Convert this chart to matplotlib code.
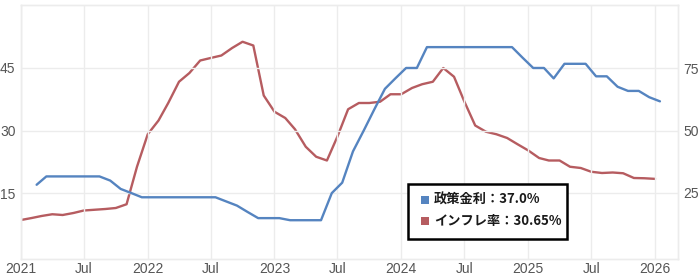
import pandas as pd
import numpy as np
import matplotlib
matplotlib.use('Agg')
import matplotlib.pyplot as plt
from matplotlib.patches import Rectangle

# policy rate (left axis), monthly from Feb 2021, plotted mid-month
rate_start = '2021-02-01'
rate_values = [17, 19, 19, 19, 19, 19, 19, 18, 16, 15, 14,
               14, 14, 14, 14, 14, 14, 14, 13, 12, 10.5, 9, 9,
               9, 8.5, 8.5, 8.5, 8.5, 15, 17.5, 25, 30, 35, 40, 42.5,
               45, 45, 50, 50, 50, 50, 50, 50, 50, 50, 50, 47.5,
               45, 45, 42.5, 46, 46, 46, 43, 43, 40.5, 39.5, 39.5, 38,
               37]

# inflation (right axis), monthly from Jan 2021, plotted at month start
infl_start = '2021-01-01'
infl_values = [14.2, 15, 15.8, 16.5, 16.2, 17, 18, 18.3, 18.6, 19, 20.5, 35.5,
               48.5, 54, 61, 69.5, 73, 78, 79, 80, 83, 85.5, 84, 64,
               57.5, 55, 50.5, 43.5, 39.5, 38, 47.5, 58.5, 61, 61, 61.5, 64.5,
               64.5, 67, 68.5, 69.5, 75, 71.5, 61.5, 52, 49.5, 48.5, 47, 44.5,
               42, 39, 38, 38, 35.5, 35, 33.5, 33, 33.2, 32.9, 31, 30.9,
               30.65]

tick_dates = ['2021-01-01', '2021-07-01', '2022-01-01', '2022-07-01', '2023-01-01',
              '2023-07-01', '2024-01-01', '2024-07-01', '2025-01-01', '2025-07-01',
              '2026-01-01']
tick_labels = ['2021', 'Jul', '2022', 'Jul', '2023', 'Jul', '2024', 'Jul', '2025', 'Jul', '2026']

left_ticks = [15, 30, 45]
right_ticks = [25, 50, 75]

legend_labels = ['政策金利：37.0%', 'インフレ率：30.65%']

blue = '#5584c0'
red = '#b65c60'
grid_c = '#ececec'
text_c = '#555555'

W, H = 700, 277

def fx(x):
    return x / W

def fy(y):
    return 1 - y / H

rate_dates = pd.date_range(rate_start, periods=len(rate_values), freq='MS') + pd.Timedelta(days=14)
infl_dates = pd.date_range(infl_start, periods=len(infl_values), freq='MS')
ticks = pd.to_datetime(tick_dates)

plt.rcParams['font.family'] = ['Liberation Sans', 'DejaVu Sans']

fig = plt.figure(figsize=(7, 2.77), dpi=100)
ax = fig.add_axes([fx(21), fy(259), 657 / W, 254 / H])
ax2 = ax.twinx()

ax.set_zorder(ax2.get_zorder() + 1)
ax.patch.set_visible(False)

ax2.plot(infl_dates, infl_values, color=red, lw=1.7, solid_capstyle='round', solid_joinstyle='round')
ax.plot(rate_dates, rate_values, color=blue, lw=1.7, solid_capstyle='round', solid_joinstyle='round')

ax.set_xlim(pd.Timestamp('2021-01-01'), pd.Timestamp('2026-03-08'))
ax.set_ylim(-0.8, 60.1)
ax2.set_ylim(-1.4, 100.2)

ax.set_xticks(ticks)
ax.set_xticklabels(tick_labels)
ax.set_yticks(left_ticks)
ax.set_yticklabels([str(v) for v in left_ticks])
ax2.set_yticks(right_ticks)
ax2.set_yticklabels([str(v) for v in right_ticks])

ax.tick_params(axis='x', length=0, pad=2, labelsize=10, colors=text_c)
ax.tick_params(axis='y', length=0, pad=4, labelsize=10, colors=text_c)
ax2.tick_params(axis='y', length=0, pad=4, labelsize=10, colors=text_c)

ax.grid(True, color=grid_c, lw=1)
ax.set_axisbelow(True)
for a in (ax, ax2):
    for s in a.spines.values():
        s.set_color(grid_c)
        s.set_linewidth(1)

# legend box drawn by hand, in figure pixels
box = Rectangle((fx(408), fy(238.5)), (566.5 - 408) / W, (238.5 - 183.5) / H,
                transform=fig.transFigure, facecolor='white', edgecolor='black',
                lw=1.8, zorder=5)
fig.add_artist(box)
rows_y = [200, 221]
for label, c, y in zip(legend_labels, [blue, red], rows_y):
    sq = Rectangle((fx(420.5), fy(y + 4)), 8 / W, 8 / H, transform=fig.transFigure,
                   facecolor=c, edgecolor='none', zorder=6)
    fig.add_artist(sq)
    fig.text(fx(434), fy(y), label, ha='left', va='center', fontsize=9.5,
             fontweight='bold', color='#1a1a1a', zorder=7,
             family=['Noto Sans CJK JP', 'DejaVu Sans'])

fig.savefig('out.png', dpi=100)
